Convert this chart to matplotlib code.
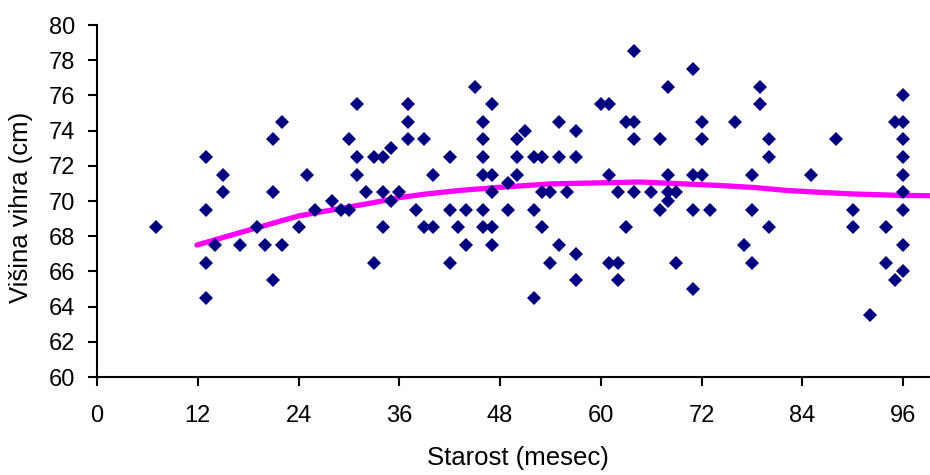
import matplotlib
matplotlib.use("Agg")
import matplotlib.pyplot as plt

# Scatter data: age (months) and withers height (cm)
age = [7,
       13, 13, 13, 13, 14, 15, 15, 17, 19, 20, 21, 21, 21, 22, 22, 24, 25, 26, 28, 29,
       30, 30, 31, 31, 31, 32, 33, 33, 34, 34, 34, 35, 35, 36, 37, 37, 37, 38, 39, 39,
       40, 40, 42, 42, 42, 43, 44, 44, 45, 46, 46, 46, 46, 46, 46, 47, 47, 47, 47, 47,
       49, 49, 50, 50, 50, 51, 52, 52, 52, 53, 53, 53, 54, 54, 55, 55, 55, 56,
       57, 57, 57, 57, 60, 61, 61, 61, 62, 62, 62, 63, 63, 64, 64, 64, 64, 66,
       67, 67, 68, 68, 68, 68, 69, 69, 71, 71, 71, 71, 72, 72, 72, 73, 76, 77,
       78, 78, 78, 79, 79, 80, 80, 80, 85, 88, 90, 90, 92, 94, 94, 95, 95,
       96, 96, 96, 96, 96, 96, 96, 96, 96]
height = [68.5,
          72.5, 69.5, 66.5, 64.5, 67.5, 71.5, 70.5, 67.5, 68.5, 67.5, 73.5, 70.5, 65.5, 74.5, 67.5, 68.5, 71.5, 69.5, 70.0, 69.5,
          73.5, 69.5, 75.5, 72.5, 71.5, 70.5, 72.5, 66.5, 72.5, 70.5, 68.5, 73.0, 70.0, 70.5, 75.5, 74.5, 73.5, 69.5, 73.5, 68.5,
          71.5, 68.5, 72.5, 69.5, 66.5, 68.5, 69.5, 67.5, 76.5, 74.5, 73.5, 72.5, 71.5, 69.5, 68.5, 75.5, 71.5, 70.5, 68.5, 67.5,
          71.0, 69.5, 73.5, 72.5, 71.5, 74.0, 72.5, 69.5, 64.5, 72.5, 70.5, 68.5, 70.5, 66.5, 74.5, 72.5, 67.5, 70.5,
          74.0, 72.5, 67.0, 65.5, 75.5, 75.5, 71.5, 66.5, 70.5, 66.5, 65.5, 74.5, 68.5, 78.5, 74.5, 73.5, 70.5, 70.5,
          73.5, 69.5, 76.5, 71.5, 70.5, 70.0, 70.5, 66.5, 77.5, 71.5, 69.5, 65.0, 74.5, 73.5, 71.5, 69.5, 74.5, 67.5,
          71.5, 69.5, 66.5, 76.5, 75.5, 73.5, 72.5, 68.5, 71.5, 73.5, 69.5, 68.5, 63.5, 68.5, 66.5, 74.5, 65.5,
          76.0, 74.5, 73.5, 72.5, 71.5, 70.5, 69.5, 67.5, 66.0]

# Trend curve
trend_x = [11.9, 17.0, 24.0, 26.9, 32.5, 36.1, 39.2, 43.2, 48.0, 53.9, 60.7, 64.6,
           68.6, 74.6, 78.5, 82.1, 85.9, 90.0, 95.6, 99.2]
trend_y = [67.5, 68.2, 69.15, 69.4, 69.87, 70.2, 70.4, 70.6, 70.78, 70.97, 71.04, 71.08,
           71.0, 70.87, 70.76, 70.6, 70.5, 70.4, 70.32, 70.3]

x_ticks = [0, 12, 24, 36, 48, 60, 72, 84, 96]
y_ticks = [60, 62, 64, 66, 68, 70, 72, 74, 76, 78, 80]

plt.rcParams['font.family'] = ['Liberation Sans', 'DejaVu Sans']

fig = plt.figure(figsize=(9.3, 4.75), dpi=100)
ax = fig.add_axes([97/930, 1 - 377/475, (930 - 97)/930, (377 - 25)/475])

ax.plot(trend_x, trend_y, color='#FF00FF', linewidth=3.8, solid_capstyle='round', zorder=2)
ax.plot(age, height, linestyle='none', marker='D', markersize=7.3,
        markerfacecolor='#000080', markeredgewidth=0, zorder=3)

ax.set_xlim(0, 99.2)
ax.set_ylim(60, 80)
ax.set_xticks(x_ticks)
ax.set_yticks(y_ticks)

for s in ['top', 'right']:
    ax.spines[s].set_visible(False)
for s in ['left', 'bottom']:
    ax.spines[s].set_linewidth(1.5)
ax.tick_params(axis='both', direction='out', length=6.5, width=1.5, labelsize=17)
ax.tick_params(axis='y', pad=9.5)
ax.tick_params(axis='x', pad=14)

ax.set_xlabel('Starost (mesec)', fontsize=18.5)
ax.set_ylabel('Višina vihra (cm)', fontsize=18.5)
ax.xaxis.set_label_coords(0.5048, -0.196)
ax.yaxis.set_label_coords(-0.077, 0.4815)

fig.savefig('out.png', dpi=100)
